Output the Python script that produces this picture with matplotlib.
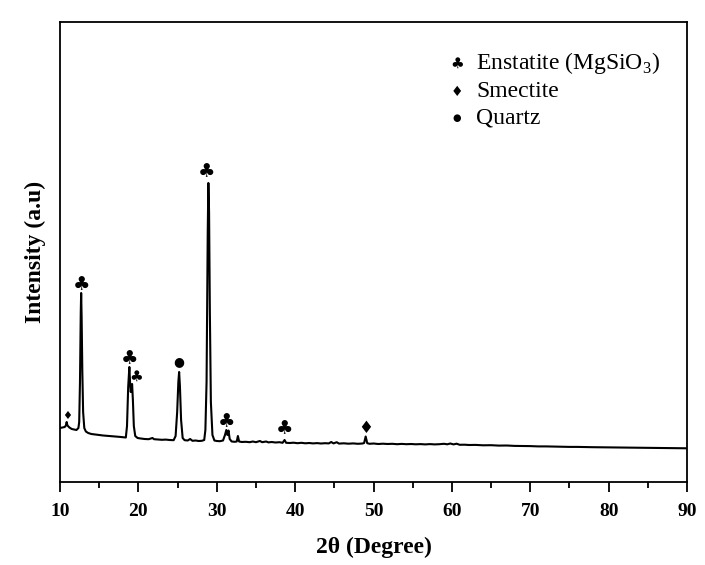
import numpy as np
import matplotlib
matplotlib.use("Agg")
import matplotlib.pyplot as plt

# XRD pattern (2 theta in degrees, intensity in a.u.)
two_theta = [10.0, 10.3, 10.6, 10.75, 10.85, 10.95, 11.2, 11.5, 11.8, 12.1, 12.35, 12.45, 12.55, 12.65,
             12.7, 12.76, 12.85, 12.95, 13.1, 13.3, 13.6, 14.0, 14.5, 15.0, 15.5, 16.0, 16.5, 17.0,
             17.5, 18.0, 18.4, 18.55, 18.7, 18.85, 18.95, 19.03, 19.12, 19.2, 19.3, 19.42, 19.6,
             19.9, 20.3, 20.8, 21.3, 21.8, 22.0, 22.5, 23.0, 23.5, 24.0, 24.5, 24.75, 24.95, 25.1,
             25.2, 25.3, 25.45, 25.65, 25.9, 26.3, 26.6, 26.9, 27.3, 27.7, 28.1, 28.4, 28.55, 28.7,
             28.85, 28.93, 29.02, 29.12, 29.25, 29.45, 29.7, 30.0, 30.4, 30.8, 31.05, 31.22, 31.36,
             31.5, 31.65, 31.9, 32.3, 32.55, 32.7, 32.85, 33.2, 33.7, 34.2, 34.6, 35.0, 35.5, 35.8,
             36.3, 36.6, 37.0, 37.5, 38.0, 38.4, 38.65, 38.85, 39.3, 39.8, 40.3, 40.8, 41.3, 41.8,
             42.3, 42.8, 43.3, 43.8, 44.3, 44.6, 44.9, 45.3, 45.6, 46.2, 46.8, 47.4, 48.0, 48.6,
             48.8, 49.0, 49.2, 49.5, 50.0, 50.6, 51.2, 51.8, 52.4, 53.0, 53.6, 54.2, 54.8, 55.4,
             56.0, 56.6, 57.2, 57.8, 58.4, 59.0, 59.4, 59.8, 60.2, 60.6, 61.0, 61.6, 62.2, 63.0,
             64.0, 65.0, 66.0, 67.0, 68.0, 69.0, 70.0, 71.0, 72.0, 73.0, 74.0, 75.0, 76.0, 77.0,
             78.0, 79.0, 80.0, 81.0, 82.0, 83.0, 84.0, 85.0, 86.0, 87.0, 88.0, 89.0, 90.0]
intensity = [540, 545, 550, 565, 600, 565, 545, 530, 525, 520, 540, 600, 1000, 1700,
             1890, 1650, 1100, 700, 540, 505, 490, 480, 475, 470, 465, 462, 458, 455,
             452, 448, 445, 560, 950, 1150, 980, 900, 950, 980, 820, 560, 460,
             440, 435, 430, 428, 440, 428, 425, 422, 424, 420, 418, 460, 700, 1000,
             1100, 960, 620, 440, 418, 415, 430, 412, 415, 410, 412, 420, 520, 1000,
             2500, 2990, 2700, 1700, 800, 470, 415, 410, 408, 415, 470, 520, 470,
             515, 430, 405, 402, 405, 460, 405, 400, 402, 398, 405, 398, 410, 398,
             405, 396, 400, 395, 398, 392, 420, 392, 390, 393, 388, 392, 387, 390,
             386, 389, 385, 388, 386, 400, 386, 398, 384, 387, 383, 386, 382, 385,
             390, 455, 388, 382, 385, 380, 383, 380, 382, 378, 381, 378, 380, 377,
             379, 376, 379, 376, 378, 382, 377, 385, 376, 383, 372, 373, 370, 371,
             367, 368, 364, 365, 361, 360, 359, 356, 356, 354, 353, 351, 351, 349,
             348, 347, 346, 345, 344, 343, 342, 341, 340, 339, 338, 338, 337]

# peak markers: symbol, 2 theta of the peak
peak_symbols = ["\u2666", "\u2663", "\u2663", "\u2663", "\u25CF", "\u2663", "\u2663", "\u2663", "\u2666"]
peak_pos = [10.85, 12.7, 18.85, 19.2, 25.2, 28.93, 31.22, 38.65, 49.0]

legend_symbols = ["\u2663", "\u2666", "\u25CF"]
legend_names = ["Enstatite (MgSiO$_\\mathregular{3}$)", "Smectite", "Quartz"]

plt.rcParams["font.family"] = ["Liberation Serif", "DejaVu Serif"]
plt.rcParams["mathtext.fontset"] = "custom"
plt.rcParams["mathtext.rm"] = "Liberation Serif"

fig = plt.figure(figsize=(7.05, 5.65), dpi=100)
ax = fig.add_axes([0.0851, 0.1469, 0.8894, 0.8142])

ax.plot(two_theta, intensity, color="black", lw=1.5)
ax.set_xlim(10, 90)
ax.set_ylim(0, 4600)
ax.set_xticks(np.arange(10, 91, 10))
ax.set_xticks(np.arange(15, 90, 10), minor=True)
ax.set_yticks([])
ax.tick_params(axis="x", which="major", direction="out", length=7, width=1.3, labelsize=14, pad=8)
ax.tick_params(axis="x", which="minor", direction="out", length=4, width=1.3)
for lbl in ax.get_xticklabels():
    lbl.set_fontweight("bold")
for sp in ax.spines.values():
    sp.set_linewidth(1.3)

ax.set_xlabel("2\u03b8 (Degree)", fontsize=17, fontweight="bold", labelpad=12)
ax.set_ylabel("Intensity (a.u)", fontsize=17, fontweight="bold", labelpad=10)

# symbols above peaks
sizes = {10.85: 8, 19.2: 11, 49.0: 12, 25.2: 9}
offsets = {10.85: (0, 6), 19.2: (4, 8), 25.2: (0, 10), 28.93: (-2, 11), 38.65: (0, 11)}
lookup = dict(zip(two_theta, intensity))
for sym, pos in zip(peak_symbols, peak_pos):
    dx, dy = offsets.get(pos, (0, 8))
    ax.annotate(sym, xy=(pos, lookup[pos]), xytext=(dx, dy), textcoords="offset pixels",
                ha="center", va="center", fontsize=sizes.get(pos, 14), family="DejaVu Sans")

# hand-made legend
leg_y = [0.911, 0.848, 0.791]
sym_sizes = [11, 10, 7]
for sym, name, yy, ss in zip(legend_symbols, legend_names, leg_y, sym_sizes):
    ax.text(0.633, yy, sym, transform=ax.transAxes, ha="center", va="center",
            fontsize=ss, family="DejaVu Sans")
    ax.text(0.664, yy, name, transform=ax.transAxes, ha="left", va="center", fontsize=17)

fig.savefig("out.png", dpi=100)
